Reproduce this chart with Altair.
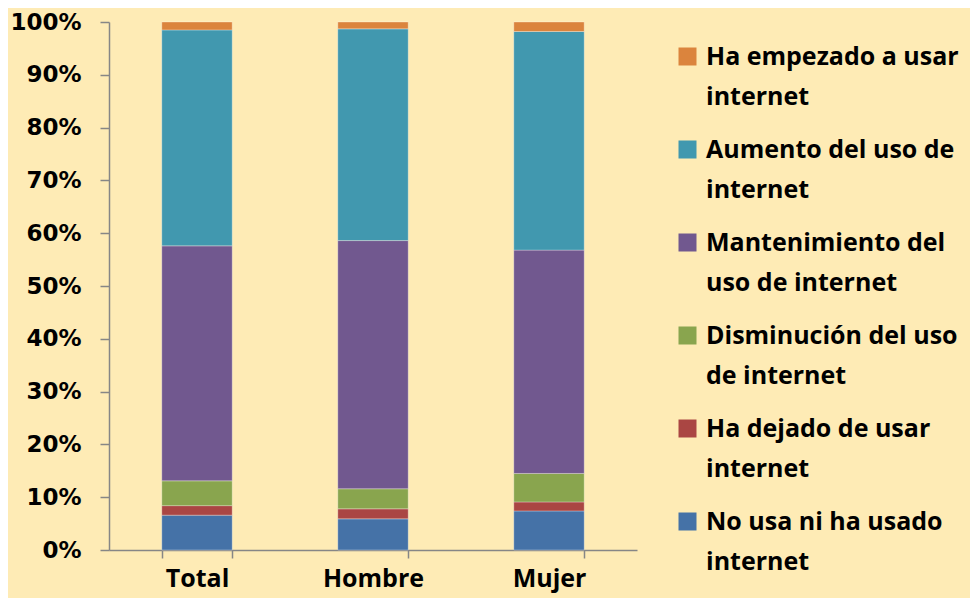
import altair as alt
import pandas as pd

categories = ["Total", "Hombre", "Mujer"]
series = [
    "No usa ni ha usado internet",
    "Ha dejado de usar internet",
    "Disminución del uso de internet",
    "Mantenimiento del uso de internet",
    "Aumento del uso de internet",
    "Ha empezado a usar internet",
]
no_usa = [6.6, 5.9, 7.4]
ha_dejado = [1.8, 1.9, 1.7]
disminucion = [4.7, 3.8, 5.4]
mantenimiento = [44.5, 47.0, 42.3]
aumento = [40.9, 40.1, 41.4]
ha_empezado = [1.5, 1.3, 1.8]
colors = ["#4572A7", "#AA4643", "#89A54E", "#71588F", "#4198AF", "#DB843D"]
legend_lines = {
    "Ha empezado a usar internet": ["Ha empezado a usar", "internet"],
    "Aumento del uso de internet": ["Aumento del uso de", "internet"],
    "Mantenimiento del uso de internet": ["Mantenimiento del", "uso de internet"],
    "Disminución del uso de internet": ["Disminución del uso", "de internet"],
    "Ha dejado de usar internet": ["Ha dejado de usar", "internet"],
    "No usa ni ha usado internet": ["No usa ni ha usado", "internet"],
}

values = [no_usa, ha_dejado, disminucion, mantenimiento, aumento, ha_empezado]
rows = []
for si, (name, vals) in enumerate(zip(series, values)):
    for ci, cat in enumerate(categories):
        rows.append({"cat": cat, "serie": name, "value": vals[ci] / 100.0, "order": si})
df = pd.DataFrame(rows)

expr_parts = []
for k, v in legend_lines.items():
    expr_parts.append("datum.label == '%s' ? ['%s', '%s']" % (k, v[0], v[1]))
label_expr = " : ".join(expr_parts) + " : datum.label"

chart = alt.Chart(df).mark_bar(stroke="#ffffff", strokeWidth=0.6, strokeOpacity=0.5).encode(
    x=alt.X("cat:N", sort=categories, title=None,
            scale=alt.Scale(paddingInner=0.6, paddingOuter=0.3),
            axis=alt.Axis(labelAngle=0, labelFont="Open Sans", labelFontSize=25, labelFontWeight="bold",
                          labelColor="#000000", labelPadding=8, tickBand="extent",
                          tickSize=8, tickColor="#868686", domainColor="#868686",
                          domainWidth=1.5, tickWidth=1.5, labelLineHeight=25)),
    y=alt.Y("value:Q", stack="zero", title=None,
            scale=alt.Scale(domain=[0, 1], nice=False),
            axis=alt.Axis(format=".0%", values=[i / 10 for i in range(11)], grid=False,
                          labelFont="DejaVu Sans", labelFontSize=23, labelFontWeight="bold",
                          labelColor="#000000", labelPadding=19, tickSize=9,
                          tickColor="#868686", domainColor="#868686",
                          domainWidth=1.5, tickWidth=1.5, labelLineHeight=23)),
    color=alt.Color("serie:N", sort=series[::-1],
                    scale=alt.Scale(domain=series[::-1], range=colors[::-1]),
                    legend=alt.Legend(title=None, orient="none", legendX=566, legendY=22,
                                      symbolType="square", symbolSize=324, symbolStrokeWidth=0,
                                      labelFont="Open Sans", labelFontSize=25, labelFontWeight="bold",
                                      labelColor="#000000", labelLimit=400, labelOffset=6,
                                      labelExpr=label_expr, labelBaseline="middle",
                                      rowPadding=27)),
    order=alt.Order("order:Q", sort="ascending"),
).properties(
    width=528, height=528,
    autosize=alt.AutoSizeParams(type="none"),
    padding={"left": 101, "top": 14, "right": 333, "bottom": 48},
).configure(
    background="#FEEBB5",
    style={"guide-label": {"lineHeight": 40}},
).configure_view(stroke=None)

chart.save("out.html", embed_options={"renderer": "svg", "actions": False})
